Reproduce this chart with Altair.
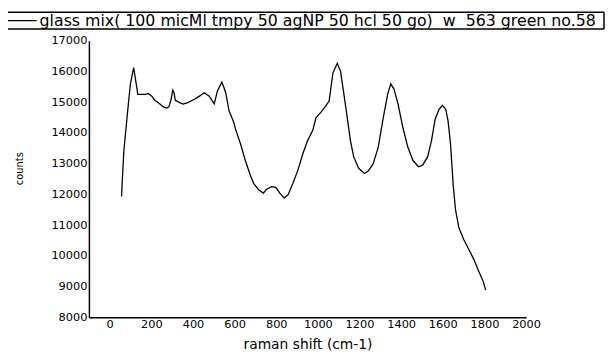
import altair as alt
import pandas as pd

series_name = "glass mix( 100 micMl tmpy 50 agNP 50 hcl 50 go)\u00a0 w\u00a0 563 green no.58"

raman_shift = [57, 60, 68, 83, 99, 115, 135, 147, 170, 186, 202, 218, 241, 257, 273,
               284, 293, 303, 309, 315, 336, 352, 375, 407, 431, 454, 478, 502, 517,
               538, 549, 557, 573, 580, 596, 604, 612, 628, 651, 675, 691, 715, 738,
               754, 778, 798, 817, 838, 857, 880, 904, 928, 951, 975, 991, 1014, 1038,
               1054, 1072, 1093, 1109, 1125, 1141, 1156, 1172, 1196, 1224, 1243, 1266,
               1290, 1314, 1335, 1350, 1366, 1385, 1408, 1432, 1456, 1483, 1503, 1527,
               1546, 1563, 1582, 1598, 1614, 1625, 1637, 1650, 1661, 1677, 1700, 1724,
               1748, 1771, 1795, 1806]
counts = [11930, 12410, 13430, 14500, 15580, 16130, 15260, 15260, 15260, 15280, 15200,
          15060, 14940, 14850, 14810, 14850, 15040, 15390, 15310, 15060, 14990, 14940,
          14990, 15100, 15200, 15310, 15200, 14950, 15360, 15660, 15470, 15310, 14720,
          14610, 14340, 14130, 13970, 13650, 13110, 12630, 12360, 12150, 12040, 12170,
          12250, 12230, 12040, 11880, 11990, 12360, 12790, 13330, 13760, 14080, 14500,
          14670, 14880, 15040, 15950, 16270, 16000, 15260, 14500, 13760, 13220, 12850,
          12680, 12770, 13010, 13540, 14500, 15260, 15600, 15420, 14940, 14180, 13540,
          13110, 12900, 12950, 13220, 13760, 14450, 14770, 14900, 14770, 14400, 13650,
          12300, 11500, 10920, 10540, 10220, 9900, 9520, 9150, 8880]

x_ticks = list(range(0, 2001, 200))
y_ticks = list(range(8000, 17001, 1000))

df = pd.DataFrame({"shift": raman_shift, "counts": counts})
legend_df = pd.DataFrame({"series": [series_name]})

FONT = "DejaVu Sans"

line = alt.Chart(df).mark_line(color="black", strokeWidth=1.3).encode(
    x=alt.X("shift:Q", scale=alt.Scale(domain=[-100, 2000], nice=False, zero=False),
            axis=alt.Axis(values=x_ticks, format="d", title="raman shift (cm-1)",
                          grid=False, ticks=False, labelPadding=1, labelFontSize=11.5,
                          titleFontSize=14, titlePadding=8, titleFontWeight="normal",
                          labelFlush=False)),
    y=alt.Y("counts:Q", scale=alt.Scale(domain=[8000, 17000], nice=False, zero=False),
            axis=alt.Axis(values=y_ticks, format="d", title="counts", grid=False,
                          ticks=False, labelPadding=2, labelFontSize=11.5,
                          titleFontSize=10, titlePadding=27, titleY=129,
                          titleFontWeight="normal", labelFlush=False)),
)

# legend box drawn as a frame with a sample line and the series label
box_top = alt.Chart(legend_df).mark_rule(color="black", strokeWidth=1.5).encode(
    x=alt.value(-100), x2=alt.value(522), y=alt.value(-29))
box_bottom = alt.Chart(legend_df).mark_rule(color="black", strokeWidth=1.5).encode(
    x=alt.value(-100), x2=alt.value(522), y=alt.value(-12))
box_right = alt.Chart(legend_df).mark_rule(color="black", strokeWidth=1.5).encode(
    x=alt.value(522), y=alt.value(-29), y2=alt.value(-12))
sample = alt.Chart(legend_df).mark_rule(color="black", strokeWidth=1.3).encode(
    x=alt.value(-92), x2=alt.value(-53), y=alt.value(-20.5))
label = alt.Chart(legend_df).mark_text(
    align="left", baseline="middle", font=FONT, fontSize=16, color="black").encode(
    text="series:N", x=alt.value(-50), y=alt.value(-20.5))

chart = alt.layer(line, box_top, box_bottom, box_right, sample, label).properties(
    width=443, height=280,
    autosize=alt.AutoSizeParams(type="none"),
    padding={"left": 82, "top": 31, "right": 81, "bottom": 34},
).configure_view(stroke=None).configure_axis(
    domainColor="black", domainWidth=1.5, labelColor="black", titleColor="black",
    labelFont=FONT, titleFont=FONT,
)

chart.save("out.html", embed_options={"renderer": "svg", "actions": False})
